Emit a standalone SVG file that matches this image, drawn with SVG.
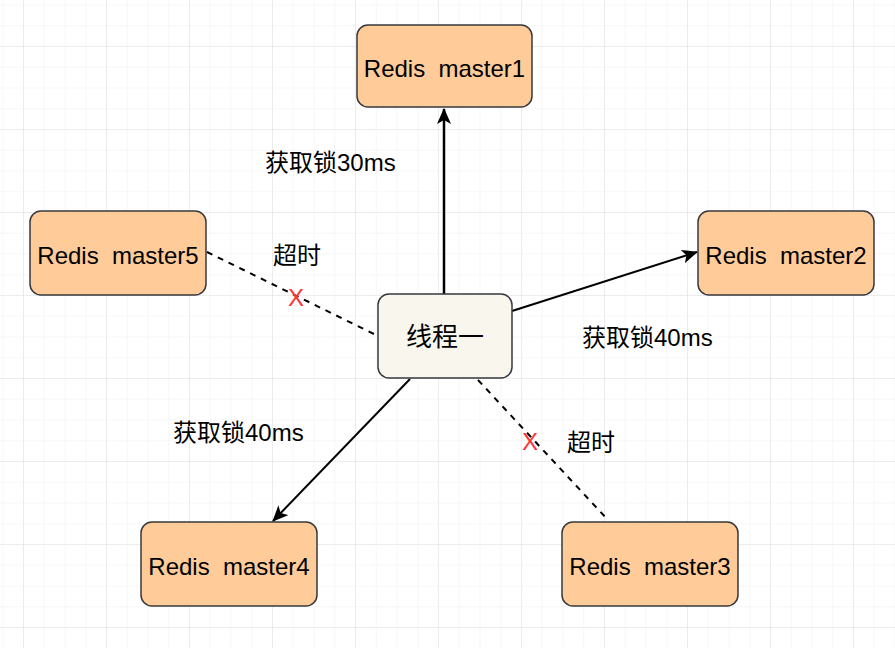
<svg xmlns="http://www.w3.org/2000/svg" width="895" height="648" viewBox="0 0 895 648">
  <defs>
    <pattern id="minor" x="2.25" y="4.5" width="20.75" height="20.75" patternUnits="userSpaceOnUse">
      <path d="M0 0 H20.75 M0 0 V20.75" fill="none" stroke="#efefef" stroke-width="1"/>
    </pattern>
    <pattern id="major" x="23" y="46" width="83" height="83" patternUnits="userSpaceOnUse">
      <path d="M0 0 H83 M0 0 V83" fill="none" stroke="#e2e2e2" stroke-width="1"/>
    </pattern>
    <marker id="arrow" viewBox="0 0 16 14" refX="15" refY="7" markerWidth="16" markerHeight="14" markerUnits="userSpaceOnUse" orient="auto">
      <path d="M0 0 L16 7 L0 14 L4 7 Z" fill="#000"/>
    </marker>
    <style>
      .redis { fill: #ffcc99; stroke: #36393d; stroke-width: 1.5; }
      .thread { fill: #f9f7ed; stroke: #36393d; stroke-width: 1.5; }
      .lbl { font-family: "Liberation Sans", "Noto Sans CJK SC", sans-serif; font-size: 24px; fill: #000; }
      .mid { text-anchor: middle; }
      .solid { stroke: #000; stroke-width: 2; fill: none; marker-end: url(#arrow); }
      .dash { stroke: #000; stroke-width: 2; fill: none; stroke-dasharray: 6 6; }
      .x { font-family: "Liberation Sans", sans-serif; font-size: 24px; fill: #ff3333; text-anchor: middle; }
    </style>
  </defs>
  <rect width="895" height="648" fill="#ffffff"/>
  <rect width="895" height="648" fill="url(#minor)"/>
  <rect width="895" height="648" fill="url(#major)"/>

  <g id="connectors">
    <path class="solid" d="M444 294 L444 109" style="stroke-width:2.5"/>
    <path class="solid" d="M512 311 L697 252"/>
    <path class="solid" d="M410 379 L273 521"/>
    <path class="dash" d="M207 252 L378 336"/>
    <path class="dash" d="M478 380 L608 520"/>
    <text class="x" x="296" y="306">X</text>
    <text class="x" x="530" y="450">X</text>
  </g>

  <g id="master1">
    <rect class="redis" x="357" y="25" width="175" height="82" rx="11"/>
    <text class="lbl mid" x="444.5" y="77" xml:space="preserve">Redis  master1</text>
  </g>
  <g id="master5">
    <rect class="redis" x="30" y="211" width="176" height="84" rx="11"/>
    <text class="lbl mid" x="118" y="264" xml:space="preserve">Redis  master5</text>
  </g>
  <g id="master2">
    <rect class="redis" x="698" y="211" width="176" height="84" rx="11"/>
    <text class="lbl mid" x="786" y="264" xml:space="preserve">Redis  master2</text>
  </g>
  <g id="thread1">
    <rect class="thread" x="378" y="294" width="134" height="84" rx="11"/>
    <text class="lbl mid" x="445" y="346" style="font-size:26px">线程一</text>
  </g>
  <g id="master4">
    <rect class="redis" x="141" y="522" width="176" height="84" rx="11"/>
    <text class="lbl mid" x="229" y="575" xml:space="preserve">Redis  master4</text>
  </g>
  <g id="master3">
    <rect class="redis" x="562" y="522" width="176" height="84" rx="11"/>
    <text class="lbl mid" x="650" y="575" xml:space="preserve">Redis  master3</text>
  </g>

  <g id="labels">
    <text class="lbl" x="265" y="171">获取锁30ms</text>
    <text class="lbl" x="273" y="264">超时</text>
    <text class="lbl" x="582" y="346">获取锁40ms</text>
    <text class="lbl" x="173" y="441">获取锁40ms</text>
    <text class="lbl" x="567" y="451">超时</text>
  </g>
</svg>
